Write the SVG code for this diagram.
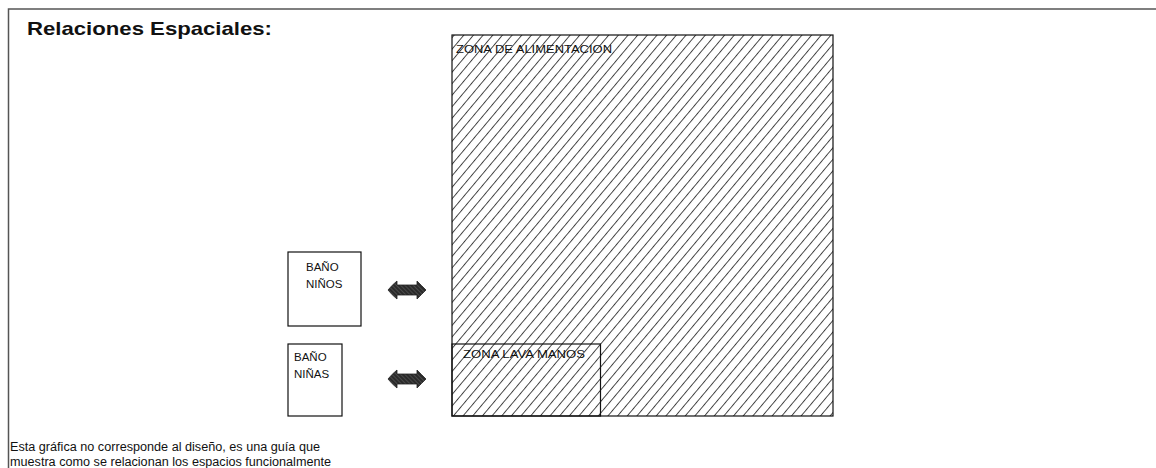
<svg xmlns="http://www.w3.org/2000/svg" width="1156" height="468" viewBox="0 0 1156 468">
<style>
.t{font-family:"Liberation Sans",Arial,sans-serif;fill:#111}
.box{fill:#fff;stroke:#111;stroke-width:1.2}
.hb{fill:url(#hatch);stroke:#111;stroke-width:1.2}
</style>
<defs>
<pattern id="hatch" patternUnits="userSpaceOnUse" width="7.4" height="7.4" patternTransform="rotate(40)">
<line x1="0.5" y1="0" x2="0.5" y2="7.4" stroke="#333" stroke-width="0.9"/>
</pattern>
<pattern id="ah" patternUnits="userSpaceOnUse" width="3" height="3" patternTransform="rotate(-45)">
<rect width="3" height="3" fill="#2a2a2a"/>
<line x1="0" y1="0" x2="0" y2="3" stroke="#777" stroke-width="0.8"/>
</pattern>
</defs>
<rect width="1156" height="468" fill="#fff"/>
<g id="frame">
<path d="M8.5 468 V9 H1156" fill="none" stroke="#555" stroke-width="1.5"/>
</g>
<text class="t" x="27" y="35" font-size="19" font-weight="bold" textLength="245" lengthAdjust="spacingAndGlyphs">Relaciones Espaciales:</text>
<g id="zona-alimentacion">
<rect class="hb" x="452" y="35" width="381" height="381"/>
<text class="t" x="456" y="53" font-size="11" textLength="156" lengthAdjust="spacingAndGlyphs">ZONA DE ALIMENTACION</text>
</g>
<g id="zona-lava-manos">
<rect x="452" y="344" width="148.5" height="72" fill="none" stroke="#111" stroke-width="1.2"/>
<text class="t" x="463" y="358" font-size="11" textLength="122" lengthAdjust="spacingAndGlyphs">ZONA LAVA MANOS</text>
</g>
<g id="bano-ninos">
<rect class="box" x="288" y="252" width="73" height="74"/>
<text class="t" x="306" y="271" font-size="11.5">BAÑO</text>
<text class="t" x="306" y="288" font-size="11.5">NIÑOS</text>
</g>
<g id="bano-ninas">
<rect class="box" x="288" y="344" width="54" height="72"/>
<text class="t" x="294" y="361" font-size="11.5">BAÑO</text>
<text class="t" x="294" y="378" font-size="11.5">NIÑAS</text>
</g>
<g id="connectors">
<path d="M388 290 Q392 285 397 281 L397 285 L417 285 L417 281 Q421 285 426 290 Q421 295 417 299 L417 295 L397 295 L397 299 Q392 295 388 290 Z" fill="url(#ah)" stroke="#222" stroke-width="0.8"/>
<path d="M388 379 Q392 374 397 370 L397 374 L417 374 L417 370 Q421 374 426 379 Q421 384 417 388 L417 384 L397 384 L397 388 Q392 384 388 379 Z" fill="url(#ah)" stroke="#222" stroke-width="0.8"/>
</g>
<text class="t" x="10" y="451" font-size="12" textLength="310" lengthAdjust="spacingAndGlyphs">Esta gráfica no corresponde al diseño, es una guía que</text>
<text class="t" x="10" y="466" font-size="12" textLength="321" lengthAdjust="spacingAndGlyphs">muestra como se relacionan los espacios funcionalmente</text>
</svg>
